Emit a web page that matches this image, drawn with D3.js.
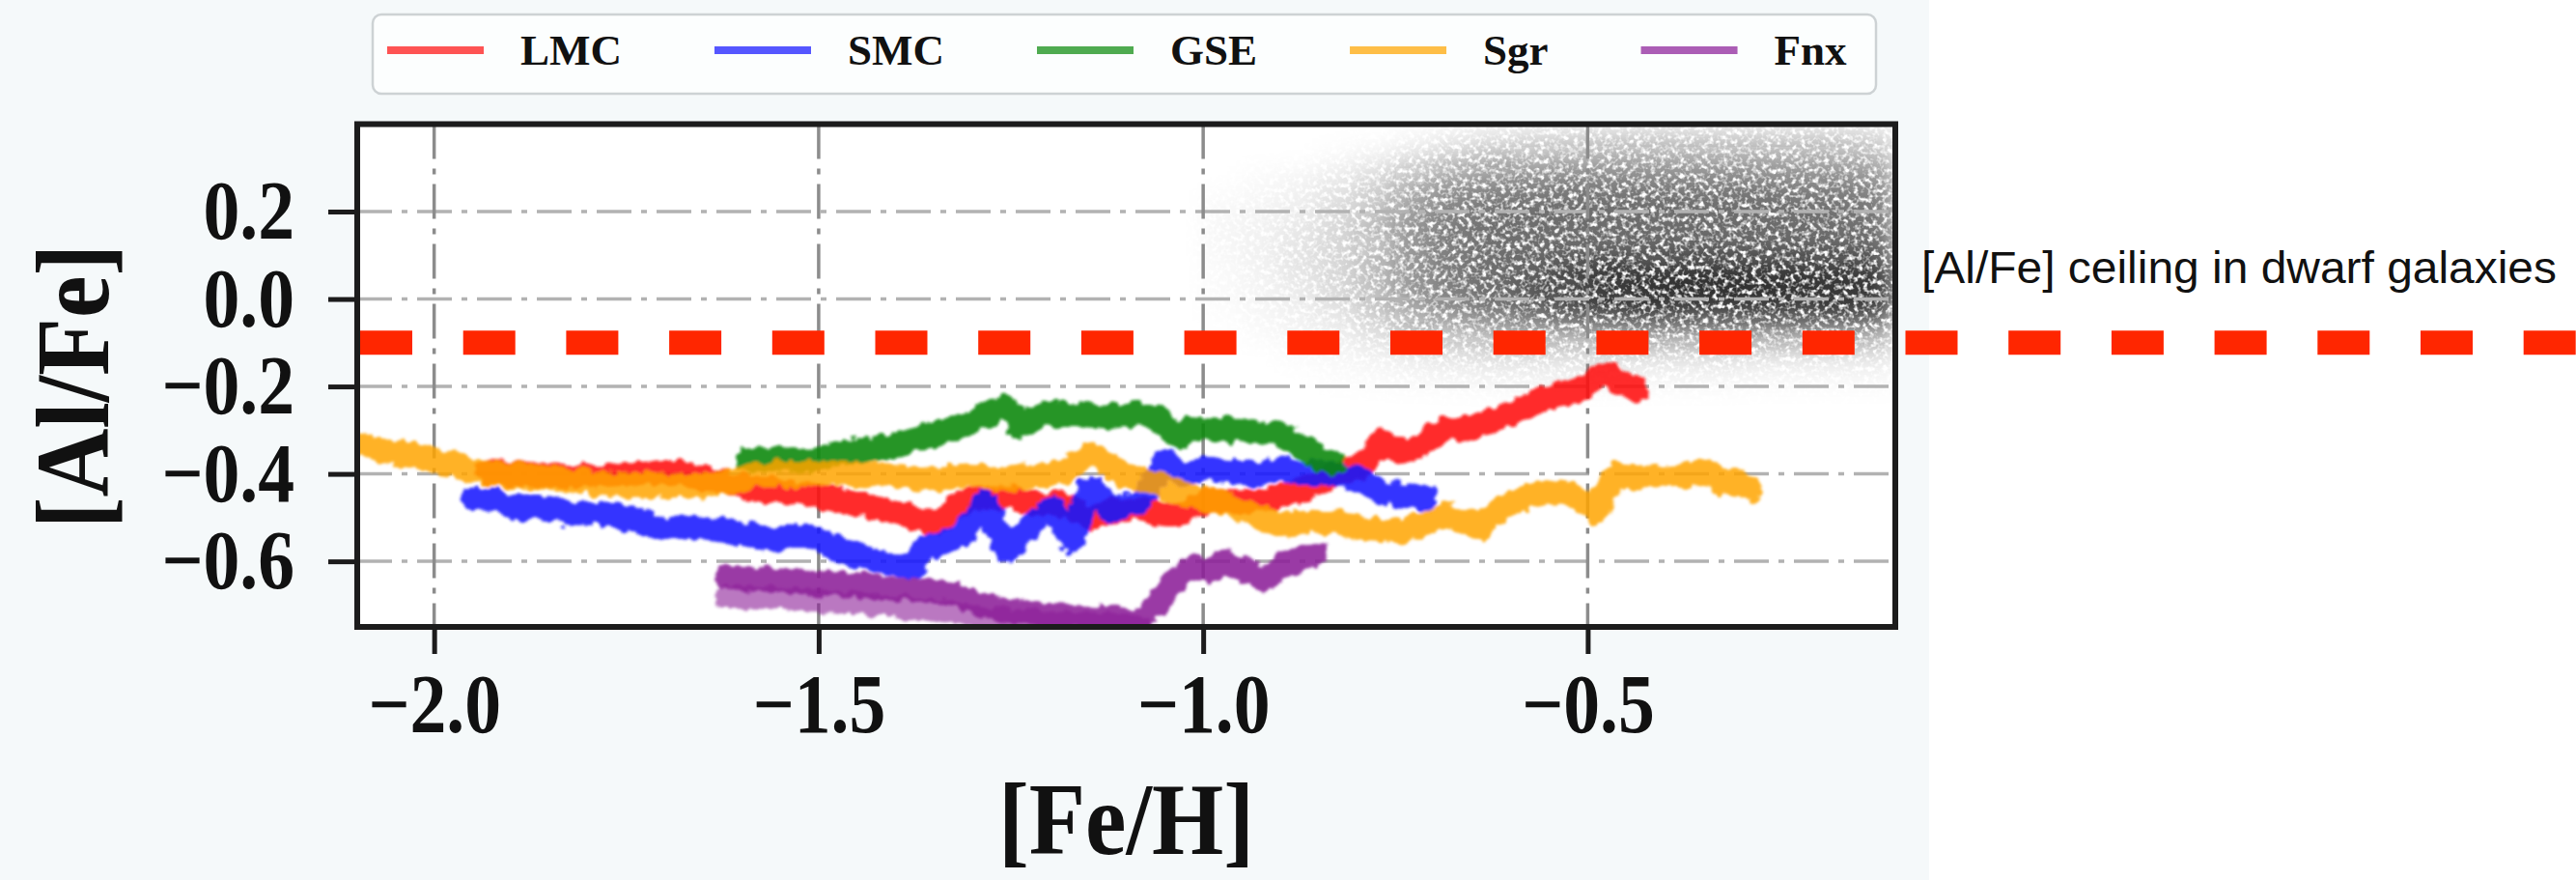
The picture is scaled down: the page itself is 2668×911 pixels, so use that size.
<!DOCTYPE html>
<html>
<head>
<meta charset="utf-8">
<script src="https://cdn.jsdelivr.net/npm/d3@7"></script>
<style>
  html, body { margin: 0; padding: 0; background: #ffffff; }
  svg { display: block; }
</style>
</head>
<body>
<svg width="2668" height="911"></svg>
<script>
// series
const seriesNames = ['LMC', 'SMC', 'GSE', 'Sgr', 'Fnx'];
const seriesColors = ['#ff1010', '#1515ff', '#0c8a0c', '#ffa500', '#8c1e98'];

const lmcFeH = [-1.93, -1.88, -1.83, -1.78, -1.73, -1.70, -1.66, -1.62, -1.585, -1.54, -1.50, -1.46, -1.42, -1.38, -1.355, -1.335, -1.313, -1.28, -1.25, -1.22, -1.187, -1.146, -1.12, -1.083, -1.058, -1.033, -0.995, -0.96, -0.91, -0.87, -0.828, -0.80, -0.786, -0.765, -0.745, -0.723, -0.70, -0.681, -0.66, -0.64, -0.62, -0.597, -0.568, -0.556, -0.53, -0.506, -0.49, -0.477, -0.455, -0.439];
const lmcAlFe = [-0.395, -0.40, -0.405, -0.405, -0.40, -0.395, -0.405, -0.42, -0.435, -0.44, -0.45, -0.465, -0.48, -0.495, -0.51, -0.50, -0.465, -0.455, -0.45, -0.47, -0.465, -0.502, -0.485, -0.48, -0.49, -0.495, -0.458, -0.465, -0.458, -0.436, -0.40, -0.39, -0.37, -0.325, -0.35, -0.34, -0.31, -0.296, -0.30, -0.281, -0.275, -0.26, -0.237, -0.23, -0.215, -0.207, -0.18, -0.171, -0.193, -0.207];

const smcFeH = [-1.947, -1.92, -1.895, -1.86, -1.82, -1.79, -1.757, -1.73, -1.715, -1.68, -1.652, -1.62, -1.589, -1.56, -1.54, -1.522, -1.49, -1.46, -1.42, -1.376, -1.363, -1.34, -1.313, -1.284, -1.255, -1.221, -1.196, -1.171, -1.146, -1.125, -1.10, -1.083, -1.065, -1.049, -1.024, -0.995, -0.965, -0.932, -0.90, -0.87, -0.84, -0.807, -0.785, -0.765, -0.74, -0.71];
const smcAlFe = [-0.455, -0.46, -0.478, -0.475, -0.49, -0.49, -0.494, -0.51, -0.525, -0.525, -0.525, -0.53, -0.54, -0.553, -0.545, -0.54, -0.56, -0.583, -0.60, -0.613, -0.568, -0.555, -0.54, -0.465, -0.575, -0.51, -0.48, -0.553, -0.43, -0.48, -0.47, -0.465, -0.42, -0.37, -0.406, -0.385, -0.395, -0.40, -0.39, -0.40, -0.395, -0.406, -0.425, -0.443, -0.45, -0.455];

const gseFeH = [-1.593, -1.56, -1.522, -1.49, -1.46, -1.43, -1.397, -1.37, -1.334, -1.31, -1.284, -1.265, -1.255, -1.245, -1.237, -1.22, -1.209, -1.18, -1.146, -1.12, -1.10, -1.083, -1.06, -1.042, -1.03, -1.017, -0.98, -0.95, -0.932, -0.90, -0.882, -0.857, -0.832];
const gseAlFe = [-0.37, -0.365, -0.37, -0.36, -0.35, -0.345, -0.332, -0.32, -0.303, -0.285, -0.266, -0.255, -0.244, -0.265, -0.295, -0.275, -0.26, -0.265, -0.266, -0.27, -0.265, -0.26, -0.27, -0.30, -0.318, -0.296, -0.30, -0.30, -0.303, -0.31, -0.325, -0.355, -0.38];

const sgrFeH = [-2.10, -2.08, -2.06, -2.03, -2.00, -1.98, -1.953, -1.92, -1.88, -1.85, -1.80, -1.75, -1.70, -1.66, -1.62, -1.585, -1.55, -1.50, -1.45, -1.40, -1.35, -1.30, -1.25, -1.21, -1.18, -1.16, -1.142, -1.125, -1.10, -1.06, -1.033, -1.00, -0.974, -0.94, -0.899, -0.86, -0.828, -0.79, -0.744, -0.71, -0.681, -0.66, -0.64, -0.62, -0.597, -0.575, -0.556, -0.527, -0.506, -0.489, -0.475, -0.464, -0.43, -0.401, -0.37, -0.346, -0.33, -0.31, -0.288];
const sgrAlFe = [-0.335, -0.34, -0.35, -0.355, -0.37, -0.375, -0.392, -0.40, -0.405, -0.41, -0.42, -0.425, -0.425, -0.43, -0.42, -0.405, -0.40, -0.40, -0.40, -0.405, -0.41, -0.405, -0.41, -0.40, -0.395, -0.37, -0.355, -0.38, -0.405, -0.42, -0.443, -0.455, -0.465, -0.49, -0.517, -0.51, -0.51, -0.525, -0.531, -0.51, -0.495, -0.51, -0.525, -0.49, -0.465, -0.45, -0.443, -0.443, -0.46, -0.487, -0.44, -0.40, -0.41, -0.406, -0.40, -0.392, -0.42, -0.415, -0.436];

const fnxFeH = [-1.62, -1.58, -1.54, -1.50, -1.46, -1.42, -1.38, -1.334, -1.30, -1.27, -1.22, -1.17, -1.12, -1.083, -1.06, -1.04, -1.017, -0.99, -0.97, -0.954, -0.935, -0.92, -0.90, -0.87, -0.853];
const fnxAlFe = [-0.635, -0.64, -0.645, -0.65, -0.655, -0.66, -0.665, -0.671, -0.69, -0.71, -0.72, -0.725, -0.73, -0.737, -0.70, -0.65, -0.613, -0.62, -0.60, -0.613, -0.63, -0.642, -0.61, -0.59, -0.583];
// second, paler Fnx trace under the first one
const fnxLowFeH = [-1.62, -1.55, -1.50, -1.42, -1.334, -1.28, -1.20, -1.12, -1.08];
const fnxLowAlFe = [-0.68, -0.685, -0.69, -0.70, -0.715, -0.73, -0.74, -0.745, -0.75];

// Milky Way background stars, as a density grid (0 = empty, 1 = black)
const mwFeH = [-0.975, -0.925, -0.875, -0.825, -0.775, -0.725, -0.675, -0.625, -0.575, -0.525, -0.475, -0.425, -0.375, -0.325, -0.275, -0.225, -0.175, -0.125];
const mwAlFe = [0.375, 0.325, 0.275, 0.225, 0.175, 0.125, 0.075, 0.025, -0.025, -0.075, -0.125, -0.175];
const mwDensity = [
  [0, 0, 0, 0, 0, 0.02, 0.05, 0.08, 0.1, 0.12, 0.14, 0.15, 0.15, 0.15, 0.15, 0.15, 0.15, 0.12],
  [0, 0, 0, 0.02, 0.05, 0.1, 0.18, 0.25, 0.3, 0.32, 0.35, 0.35, 0.35, 0.35, 0.35, 0.35, 0.35, 0.3],
  [0, 0.02, 0.04, 0.08, 0.15, 0.3, 0.4, 0.45, 0.48, 0.5, 0.5, 0.5, 0.5, 0.5, 0.5, 0.48, 0.48, 0.45],
  [0.02, 0.03, 0.06, 0.12, 0.2, 0.4, 0.5, 0.55, 0.58, 0.6, 0.6, 0.6, 0.6, 0.6, 0.6, 0.58, 0.58, 0.55],
  [0.03, 0.05, 0.08, 0.15, 0.25, 0.45, 0.55, 0.6, 0.62, 0.62, 0.62, 0.62, 0.62, 0.62, 0.62, 0.62, 0.6, 0.58],
  [0.03, 0.05, 0.1, 0.15, 0.28, 0.45, 0.55, 0.6, 0.6, 0.6, 0.6, 0.62, 0.62, 0.62, 0.62, 0.62, 0.62, 0.6],
  [0.02, 0.05, 0.1, 0.15, 0.25, 0.45, 0.55, 0.6, 0.65, 0.72, 0.78, 0.8, 0.82, 0.82, 0.82, 0.82, 0.82, 0.8],
  [0.02, 0.04, 0.08, 0.15, 0.25, 0.45, 0.55, 0.62, 0.7, 0.8, 0.88, 0.9, 0.92, 0.92, 0.92, 0.9, 0.9, 0.88],
  [0.01, 0.03, 0.06, 0.1, 0.2, 0.38, 0.48, 0.55, 0.62, 0.7, 0.75, 0.78, 0.8, 0.8, 0.8, 0.8, 0.78, 0.75],
  [0, 0.02, 0.04, 0.06, 0.12, 0.2, 0.28, 0.32, 0.35, 0.38, 0.4, 0.42, 0.42, 0.42, 0.42, 0.42, 0.4, 0.38],
  [0, 0, 0.02, 0.03, 0.05, 0.08, 0.1, 0.12, 0.12, 0.12, 0.12, 0.12, 0.12, 0.12, 0.1, 0.1, 0.1, 0.1],
  [0, 0, 0, 0.01, 0.02, 0.03, 0.04, 0.05, 0.05, 0.05, 0.05, 0.04, 0.04, 0.04, 0.03, 0.03, 0.03, 0.03]
];

const xTicks = [-2.0, -1.5, -1.0, -0.5];
const yTicks = [-0.6, -0.4, -0.2, 0.0, 0.2];
const ceiling = -0.1;
const ceilingLabel = '[Al/Fe] ceiling in dwarf galaxies';

const svg = d3.select('svg');
const serif = '"Liberation Serif", "DejaVu Serif", serif';

const x = d3.scaleLinear().domain([-2.1, -0.1]).range([370, 1963]);
const y = d3.scaleLinear().domain([-0.75, 0.4]).range([649, 128.5]);
const plotW = x.range()[1] - x.range()[0];
const plotH = y.range()[0] - y.range()[1];

function squeeze(sel, f) {
    sel.each(function () {
        const w = this.getComputedTextLength();
        d3.select(this).attr('textLength', w * f).attr('lengthAdjust', 'spacingAndGlyphs');
    });
}

// figure background (the pasted plot image is slightly tinted)
svg.append('rect').attr('x', 0).attr('y', 0).attr('width', 1998).attr('height', 911).attr('fill', '#f5f9fa');

const defs = svg.append('defs');
defs.append('clipPath').attr('id', 'plotclip')
    .append('rect').attr('x', x.range()[0]).attr('y', y.range()[1]).attr('width', plotW).attr('height', plotH);

const grain = defs.append('filter').attr('id', 'grain')
    .attr('filterUnits', 'userSpaceOnUse')
    .attr('x', 360).attr('y', 110).attr('width', 1620).attr('height', 560);
grain.append('feGaussianBlur').attr('in', 'SourceGraphic').attr('stdDeviation', 12).attr('result', 'soft');
grain.append('feTurbulence').attr('type', 'fractalNoise').attr('baseFrequency', 0.2)
    .attr('numOctaves', 2).attr('seed', 7).attr('result', 'noise');
grain.append('feColorMatrix').attr('in', 'noise').attr('type', 'matrix')
    .attr('values', '0 0 0 0 0  0 0 0 0 0  0 0 0 0 0  3.6 0 0 0 -0.95').attr('result', 'mask');
grain.append('feComposite').attr('in', 'soft').attr('in2', 'mask').attr('operator', 'in');

const rough = defs.append('filter').attr('id', 'rough')
    .attr('filterUnits', 'userSpaceOnUse')
    .attr('x', 340).attr('y', 100).attr('width', 1660).attr('height', 600);
rough.append('feTurbulence').attr('type', 'fractalNoise').attr('baseFrequency', 0.09)
    .attr('numOctaves', 2).attr('seed', 11).attr('result', 'n');
rough.append('feDisplacementMap').attr('in', 'SourceGraphic').attr('in2', 'n')
    .attr('scale', 13).attr('xChannelSelector', 'R').attr('yChannelSelector', 'G').attr('result', 'd');
rough.append('feGaussianBlur').attr('in', 'd').attr('stdDeviation', 1.4);

// plot area
svg.append('rect')
    .attr('x', x.range()[0]).attr('y', y.range()[1])
    .attr('width', plotW).attr('height', plotH)
    .attr('fill', '#ffffff');

const inner = svg.append('g').attr('clip-path', 'url(#plotclip)');

// background stars
const cellW = x(mwFeH[1]) - x(mwFeH[0]);
const cellH = y(mwAlFe[1]) - y(mwAlFe[0]);
const cells = [];
mwAlFe.forEach((a, i) => mwFeH.forEach((f, j) => cells.push({ f, a, d: mwDensity[i][j] })));
inner.append('g').attr('filter', 'url(#grain)')
    .selectAll('rect')
    .data(cells)
    .enter()
    .append('rect')
    .attr('x', (c) => x(c.f) - cellW / 2)
    .attr('y', (c) => y(c.a) - cellH / 2)
    .attr('width', cellW + 0.5)
    .attr('height', cellH + 0.5)
    .attr('fill', '#151515')
    .attr('fill-opacity', (c) => c.d);

// grid, dash-dot
inner.append('g')
    .selectAll('line')
    .data(yTicks)
    .enter()
    .append('line')
    .attr('x1', x.range()[0]).attr('x2', x.range()[1])
    .attr('y1', (d) => y(d)).attr('y2', (d) => y(d))
    .attr('stroke', '#b2b2b2').attr('stroke-width', 3.5)
    .attr('stroke-dasharray', '36,10,6,10');
inner.append('g')
    .selectAll('line')
    .data(xTicks)
    .enter()
    .append('line')
    .attr('x1', (d) => x(d)).attr('x2', (d) => x(d))
    .attr('y1', y.range()[1]).attr('y2', y.range()[0])
    .attr('stroke', '#8c8c8c').attr('stroke-width', 3.5)
    .attr('stroke-dasharray', '36,10,6,10');

// tracks
const tracks = [
    { fe: lmcFeH, al: lmcAlFe, color: seriesColors[0], op: 0.88, w: 25 },
    { fe: smcFeH, al: smcAlFe, color: seriesColors[1], op: 0.88, w: 25 },
    { fe: gseFeH, al: gseAlFe, color: seriesColors[2], op: 0.9, w: 25 },
    { fe: sgrFeH, al: sgrAlFe, color: seriesColors[3], op: 0.85, w: 25 },
    { fe: fnxLowFeH, al: fnxLowAlFe, color: seriesColors[4], op: 0.6, w: 23 },
    { fe: fnxFeH, al: fnxAlFe, color: seriesColors[4], op: 0.88, w: 25 }
];
const line = d3.line().x((p) => x(p[0])).y((p) => y(p[1])).curve(d3.curveLinear);
inner.append('g').attr('filter', 'url(#rough)')
    .selectAll('path')
    .data(tracks)
    .enter()
    .append('path')
    .attr('d', (t) => line(d3.zip(t.fe, t.al)))
    .attr('fill', 'none')
    .attr('stroke', (t) => t.color)
    .attr('stroke-opacity', (t) => t.op)
    .attr('stroke-width', (t) => t.w)
    .attr('stroke-linejoin', 'round')
    .attr('stroke-linecap', 'round');

// frame
svg.append('rect')
    .attr('x', x.range()[0]).attr('y', y.range()[1])
    .attr('width', plotW).attr('height', plotH)
    .attr('fill', 'none').attr('stroke', '#1c1c1c').attr('stroke-width', 6);

// axes
const yAxis = svg.append('g')
    .attr('transform', `translate(${x.range()[0]}, 0)`)
    .call(d3.axisLeft(y).tickValues(yTicks).tickSize(30).tickPadding(35).tickFormat(d3.format('.1f')));
const xAxis = svg.append('g')
    .attr('transform', `translate(0, ${y.range()[0]})`)
    .call(d3.axisBottom(x).tickValues(xTicks).tickSize(28).tickPadding(20).tickFormat(d3.format('.1f')));

[yAxis, xAxis].forEach((ax) => {
    ax.select('.domain').remove();
    ax.selectAll('.tick line').attr('stroke', '#1c1c1c').attr('stroke-width', 5);
    ax.selectAll('.tick text')
        .attr('fill', '#111')
        .style('font-family', serif)
        .style('font-weight', 'bold')
        .style('font-size', '86px');
    squeeze(ax.selectAll('.tick text'), 0.88);
});

// axis labels
const xLabel = svg.append('text')
    .attr('x', (x.range()[0] + x.range()[1]) / 2)
    .attr('y', 884)
    .attr('text-anchor', 'middle')
    .attr('fill', '#111')
    .style('font-family', serif).style('font-weight', 'bold').style('font-size', '106px')
    .text('[Fe/H]');
squeeze(xLabel, 0.9);

const yLabel = svg.append('text')
    .attr('transform', 'translate(112, 400) rotate(-90)')
    .attr('text-anchor', 'middle')
    .attr('fill', '#111')
    .style('font-family', serif).style('font-weight', 'bold').style('font-size', '108px')
    .text('[Al/Fe]');
squeeze(yLabel, 0.91);

// legend
const legend = svg.append('g');
legend.append('rect')
    .attr('x', 386).attr('y', 15).attr('width', 1557).attr('height', 82).attr('rx', 9)
    .attr('fill', '#fcfefe').attr('stroke', '#cdd2d4').attr('stroke-width', 2.5);
let lx = 401;
seriesNames.forEach((name, i) => {
    legend.append('line')
        .attr('x1', lx).attr('x2', lx + 100)
        .attr('y1', 52).attr('y2', 52)
        .attr('stroke', seriesColors[i]).attr('stroke-opacity', 0.72).attr('stroke-width', 8);
    const t = legend.append('text')
        .attr('x', lx + 138).attr('y', 67)
        .attr('fill', '#111')
        .style('font-family', serif).style('font-weight', 'bold').style('font-size', '45px')
        .text(name);
    lx = lx + 138 + t.node().getComputedTextLength() + 96;
});

// ceiling line and its label
svg.append('line')
    .attr('x1', 373).attr('x2', 2668)
    .attr('y1', y(ceiling)).attr('y2', y(ceiling))
    .attr('stroke', '#ff2600').attr('stroke-width', 25)
    .attr('stroke-dasharray', '54,52.7');

const note = svg.append('text')
    .attr('x', 1990).attr('y', 293)
    .attr('fill', '#111')
    .style('font-family', '"Liberation Sans", Arial, sans-serif')
    .style('font-size', '47px')
    .text(ceilingLabel);
note.attr('textLength', 658).attr('lengthAdjust', 'spacingAndGlyphs');
</script>
</body>
</html>
